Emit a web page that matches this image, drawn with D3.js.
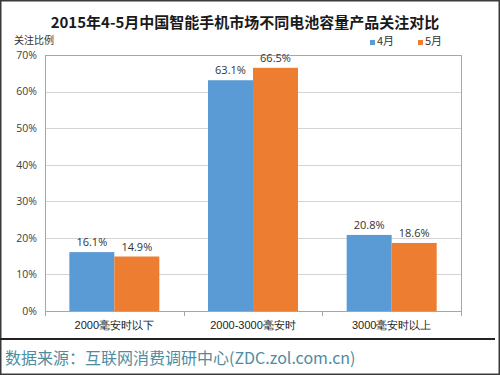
<!DOCTYPE html>
<html>
<head>
<meta charset="utf-8">
<script src="https://cdn.jsdelivr.net/npm/d3@7"></script>
<style>
  body { margin: 0; background: #fff; }
  svg { display: block; font-family: "Noto Sans CJK SC", "Noto Sans", sans-serif; }
</style>
</head>
<body>
<div id="vis"></div>
<script>
// chart values
var categories = ["2000毫安时以下", "2000-3000毫安时", "3000毫安时以上"];
var seriesNames = ["4月", "5月"];
var april = [16.1, 63.1, 20.8];
var may = [14.9, 66.5, 18.6];
var yTicks = [0, 10, 20, 30, 40, 50, 60, 70];
var colours = ["#5b9bd5", "#ed7d31"];

var width = 500, height = 375;
var margin = {top: 55, right: 39, bottom: 64, left: 45};

var svg = d3.select("#vis").append("svg")
    .attr("width", width)
    .attr("height", height);

// outer frame
svg.append("rect")
    .attr("x", 0.75).attr("y", 0.75)
    .attr("width", width - 1.5).attr("height", height - 1.5)
    .attr("fill", "none").attr("stroke", "#3a3a3a").attr("stroke-width", 1.5);

svg.append("text")
    .attr("x", 245).attr("y", 28)
    .attr("text-anchor", "middle")
    .attr("font-size", 15).attr("font-weight", "bold")
    .attr("fill", "#1a1a1a")
    .text("2015年4-5月中国智能手机市场不同电池容量产品关注对比");

var x0 = d3.scaleBand().domain(categories)
    .range([margin.left, width - margin.right]);
var x1 = d3.scaleBand().domain(seriesNames)
    .range([0, 90]);
var y = d3.scaleLinear().domain([0, 70])
    .range([height - margin.bottom, margin.top]);

// grid
svg.append("g").selectAll("line").data(yTicks).enter().append("line")
    .attr("x1", margin.left).attr("x2", width - margin.right)
    .attr("y1", function(d){ return Math.round(y(d)) + 0.5; })
    .attr("y2", function(d){ return Math.round(y(d)) + 0.5; })
    .attr("stroke", "#d4d4d4");

// plot box
svg.append("rect")
    .attr("x", margin.left + 0.5).attr("y", margin.top + 0.5)
    .attr("width", width - margin.right - margin.left)
    .attr("height", height - margin.bottom - margin.top)
    .attr("fill", "none").attr("stroke", "#a6a6a6");

// y axis
var yAxis = d3.axisLeft(y).tickValues(yTicks)
    .tickFormat(function(d){ return d + "%"; })
    .tickSize(0).tickPadding(8);
var gy = svg.append("g")
    .attr("transform", "translate(" + margin.left + ",0)")
    .call(yAxis);
gy.select(".domain").remove();
gy.selectAll("text").attr("font-size", 10.5).attr("fill", "#404040")
    .attr("font-family", "'Open Sans', 'Noto Sans', sans-serif");

svg.append("text")
    .attr("x", 14).attr("y", 44)
    .attr("font-size", 10).attr("fill", "#333")
    .text("关注比例");

// x axis
var xAxis = d3.axisBottom(x0).tickSize(0).tickPadding(10);
var gx = svg.append("g")
    .attr("transform", "translate(0," + (height - margin.bottom) + ")")
    .call(xAxis);
gx.select(".domain").attr("stroke", "#a6a6a6");
gx.selectAll("text").attr("font-size", 11).attr("fill", "#222");

// tick marks between categories
var bounds = [0].concat(categories.map(function(c){ return x0(c) + x0.bandwidth(); }));
svg.append("g").selectAll("line").data(bounds).enter().append("line")
    .attr("x1", function(d){ return Math.round(d + margin.left * (d === 0)) + 0.5; })
    .attr("x2", function(d){ return Math.round(d + margin.left * (d === 0)) + 0.5; })
    .attr("y1", height - margin.bottom)
    .attr("y2", height - margin.bottom + 5)
    .attr("stroke", "#a6a6a6");

// bars
var rows = categories.map(function(c, i){
    return {cat: c, values: [{s: seriesNames[0], v: april[i]}, {s: seriesNames[1], v: may[i]}]};
});

var groups = svg.selectAll(".grp").data(rows).enter().append("g")
    .attr("class", "grp")
    .attr("transform", function(d){
        return "translate(" + (x0(d.cat) + x0.bandwidth() / 2 - 45) + ",0)";
    });

groups.selectAll("rect").data(function(d){ return d.values; }).enter().append("rect")
    .attr("x", function(d){ return x1(d.s); })
    .attr("width", x1.bandwidth())
    .attr("y", function(d){ return y(d.v); })
    .attr("height", function(d){ return y(0) - y(d.v); })
    .attr("fill", function(d, i){ return colours[i]; });

groups.selectAll(".lbl").data(function(d){ return d.values; }).enter().append("text")
    .attr("class", "lbl")
    .attr("x", function(d){ return x1(d.s) + x1.bandwidth() / 2; })
    .attr("y", function(d){ return y(d.v) - 6; })
    .attr("text-anchor", "middle")
    .attr("font-size", 11).attr("fill", "#333")
    .attr("font-family", "'Open Sans', 'Noto Sans', sans-serif")
    .text(function(d){ return d.v.toFixed(1) + "%"; });

// legend
var legend = svg.selectAll(".leg").data(seriesNames).enter().append("g")
    .attr("class", "leg")
    .attr("transform", function(d, i){ return "translate(" + (370 + i * 48) + ",45)"; });
legend.append("rect")
    .attr("x", 0).attr("y", -5).attr("width", 5).attr("height", 5)
    .attr("fill", function(d, i){ return colours[i]; });
legend.append("text")
    .attr("x", 7).attr("y", 0)
    .attr("font-size", 11).attr("fill", "#333")
    .text(function(d){ return d; });

// footer
svg.append("line")
    .attr("x1", 0).attr("x2", 495)
    .attr("y1", 339).attr("y2", 339)
    .attr("stroke", "#222").attr("stroke-width", 2);

svg.append("text")
    .attr("x", 5).attr("y", 364)
    .attr("font-size", 16).attr("fill", "#4f8ca0")
    .text("数据来源：互联网消费调研中心(ZDC.zol.com.cn)");
</script>
</body>
</html>
